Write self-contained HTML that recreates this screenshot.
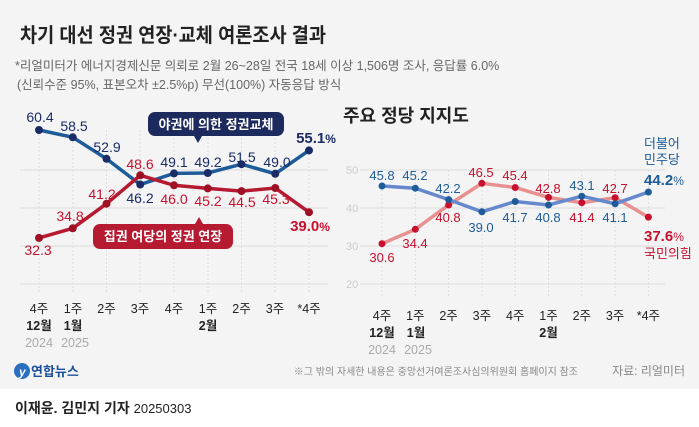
<!DOCTYPE html>
<html><head><meta charset="utf-8"><style>
body{margin:0;width:699px;height:422px;overflow:hidden;background:#fff;font-family:"Liberation Sans","Noto Sans CJK KR",sans-serif}
</style></head><body>
<svg width="699" height="422" xmlns="http://www.w3.org/2000/svg" font-family="Liberation Sans, Noto Sans CJK KR, sans-serif">
<rect x="0" y="0" width="699" height="389" fill="#f4f4f4"/>
<text x="20" y="42" font-size="20" font-weight="bold" fill="#222" textLength="306" lengthAdjust="spacingAndGlyphs">차기 대선 정권 연장·교체 여론조사 결과</text>
<text x="15" y="70" font-size="12.5" fill="#666">*리얼미터가 에너지경제신문 의뢰로 2월 26~28일 전국 18세 이상 1,506명 조사, 응답률 6.0%</text>
<text x="17" y="89" font-size="12.5" fill="#666">(신뢰수준 95%, 표본오차 ±2.5%p) 무선(100%) 자동응답 방식</text>
<g stroke="#ddd" stroke-width="1">
<line x1="20" y1="170" x2="328" y2="170"/><line x1="20" y1="208" x2="328" y2="208"/><line x1="20" y1="246" x2="328" y2="246"/><line x1="20" y1="284" x2="328" y2="284"/>
</g>
<g stroke="#ddd" stroke-dasharray="2,2"><line x1="39" y1="130" x2="39" y2="292"/><line x1="73" y1="130" x2="73" y2="292"/><line x1="106.5" y1="130" x2="106.5" y2="292"/><line x1="140" y1="130" x2="140" y2="292"/><line x1="174" y1="130" x2="174" y2="292"/><line x1="208" y1="130" x2="208" y2="292"/><line x1="241.5" y1="130" x2="241.5" y2="292"/><line x1="275" y1="130" x2="275" y2="292"/><line x1="309" y1="130" x2="309" y2="292"/></g>
<polyline fill="none" stroke="#1d5c99" stroke-width="3.5" points="39,130 72.75,137.3 106.5,158.8 140.25,184.5 174,173.4 207.75,173 241.5,164.2 275.25,173.8 309,150.4"/>
<polyline fill="none" stroke="#b51a30" stroke-width="3.5" points="39,237.9 72.75,228.3 106.5,203.7 140.25,175.3 174,185.3 207.75,188.4 241.5,191.1 275.25,188 309,212.2"/>
<g fill="#1a2b66"><circle cx="39" cy="130" r="4"/><circle cx="72.75" cy="137.3" r="4"/><circle cx="106.5" cy="158.8" r="4"/><circle cx="140.25" cy="184.5" r="4"/><circle cx="174" cy="173.4" r="4"/><circle cx="207.75" cy="173" r="4"/><circle cx="241.5" cy="164.2" r="4"/><circle cx="275.25" cy="173.8" r="4"/><circle cx="309" cy="150.4" r="4"/></g>
<g fill="#9e1024"><circle cx="39" cy="237.9" r="4"/><circle cx="72.75" cy="228.3" r="4"/><circle cx="106.5" cy="203.7" r="4"/><circle cx="140.25" cy="175.3" r="4"/><circle cx="174" cy="185.3" r="4"/><circle cx="207.75" cy="188.4" r="4"/><circle cx="241.5" cy="191.1" r="4"/><circle cx="275.25" cy="188" r="4"/><circle cx="309" cy="212.2" r="4"/></g>
<g font-size="14" fill="#1a2b66" text-anchor="middle">
<text x="40" y="122">60.4</text><text x="74" y="131">58.5</text><text x="107" y="152">52.9</text><text x="140" y="203">46.2</text><text x="174" y="167">49.1</text><text x="208" y="167">49.2</text><text x="242" y="162">51.5</text><text x="277" y="167">49.0</text><text x="316" y="143" font-weight="bold" font-size="15">55.1<tspan font-size="12">%</tspan></text>
</g>
<g font-size="14" fill="#c8102e" text-anchor="middle">
<text x="38" y="255">32.3</text><text x="70" y="221">34.8</text><text x="102" y="199">41.2</text><text x="140" y="169">48.6</text><text x="174" y="204">46.0</text><text x="208" y="206">45.2</text><text x="242" y="207">44.5</text><text x="276" y="204">45.3</text><text x="310" y="231" font-weight="bold" font-size="15">39.0<tspan font-size="12">%</tspan></text>
</g>
<rect x="148" y="112" width="136" height="24" rx="7" fill="#1d2a5e"/><polygon points="194,136 202,136 198,143" fill="#1d2a5e"/>
<text x="216" y="129" font-size="13" font-weight="bold" fill="#fff" text-anchor="middle">야권에 의한 정권교체</text>
<rect x="93" y="224" width="140" height="25" rx="7" fill="#b51a30"/><polygon points="195,224 203,224 199,217" fill="#b51a30"/>
<text x="163" y="241" font-size="13" font-weight="bold" fill="#fff" text-anchor="middle">집권 여당의 정권 연장</text>
<g font-size="12.5" fill="#222" text-anchor="middle">
<text x="39" y="313">4주</text><text x="73" y="313">1주</text><text x="106.5" y="313">2주</text><text x="140" y="313">3주</text><text x="174" y="313">4주</text><text x="208" y="313">1주</text><text x="241.5" y="313">2주</text><text x="275" y="313">3주</text><text x="309" y="313">*4주</text>
<g font-weight="bold"><text x="39" y="330">12월</text><text x="73" y="330">1월</text><text x="208" y="330">2월</text></g>
<g fill="#aaa"><text x="39" y="347">2024</text><text x="75" y="347">2025</text></g>
</g>
<text x="343" y="122" font-size="18" font-weight="bold" fill="#222">주요 정당 지지도</text>
<g stroke="#ddd"><line x1="360" y1="170" x2="665" y2="170"/><line x1="360" y1="208" x2="665" y2="208"/><line x1="360" y1="246" x2="665" y2="246"/><line x1="360" y1="284" x2="665" y2="284"/></g>
<g font-size="11" fill="#ccc"><text x="346" y="174">50</text><text x="346" y="212">40</text><text x="346" y="250">30</text><text x="346" y="288">20</text></g>
<g stroke="#ddd" stroke-dasharray="2,2"><line x1="382" y1="170" x2="382" y2="296"/><line x1="415.3" y1="170" x2="415.3" y2="296"/><line x1="448.6" y1="170" x2="448.6" y2="296"/><line x1="481.9" y1="170" x2="481.9" y2="296"/><line x1="515.2" y1="170" x2="515.2" y2="296"/><line x1="548.5" y1="170" x2="548.5" y2="296"/><line x1="581.8" y1="170" x2="581.8" y2="296"/><line x1="615.1" y1="170" x2="615.1" y2="296"/><line x1="648.4" y1="170" x2="648.4" y2="296"/></g>
<polyline fill="none" stroke="#e89090" stroke-width="3.5" points="382,243.7 415.3,229.3 448.6,205 481.9,183.3 515.2,187.5 548.5,197.4 581.8,202.7 615.1,197.7 648.4,217.1"/>
<polyline fill="none" stroke="#6688cc" stroke-width="3.5" points="382,186 415.3,188.2 448.6,199.6 481.9,211.8 515.2,201.5 548.5,205 581.8,196.2 615.1,203.8 648.4,192"/>
<g fill="#c8102e"><circle cx="382" cy="243.7" r="3.5"/><circle cx="415.3" cy="229.3" r="3.5"/><circle cx="448.6" cy="205" r="3.5"/><circle cx="481.9" cy="183.3" r="3.5"/><circle cx="515.2" cy="187.5" r="3.5"/><circle cx="548.5" cy="197.4" r="3.5"/><circle cx="581.8" cy="202.7" r="3.5"/><circle cx="615.1" cy="197.7" r="3.5"/><circle cx="648.4" cy="217.1" r="3.5"/></g>
<g fill="#1d5c99"><circle cx="382" cy="186" r="3.5"/><circle cx="415.3" cy="188.2" r="3.5"/><circle cx="448.6" cy="199.6" r="3.5"/><circle cx="481.9" cy="211.8" r="3.5"/><circle cx="515.2" cy="201.5" r="3.5"/><circle cx="548.5" cy="205" r="3.5"/><circle cx="581.8" cy="196.2" r="3.5"/><circle cx="615.1" cy="203.8" r="3.5"/><circle cx="648.4" cy="192" r="3.5"/></g>
<g font-size="13" fill="#1d5c99" text-anchor="middle">
<text x="382" y="180">45.8</text><text x="415" y="180">45.2</text><text x="448" y="193">42.2</text><text x="481" y="232">39.0</text><text x="515" y="222">41.7</text><text x="548" y="222">40.8</text><text x="582" y="190">43.1</text><text x="615" y="222">41.1</text>
</g>
<g font-size="13" fill="#c8102e" text-anchor="middle">
<text x="481" y="177">46.5</text><text x="515" y="180">45.4</text><text x="548" y="193">42.8</text><text x="448" y="222">40.8</text><text x="582" y="222">41.4</text><text x="615" y="193">42.7</text><text x="382" y="262">30.6</text><text x="415" y="248">34.4</text>
</g>
<g font-size="13" fill="#1d5c99"><text x="644" y="148">더불어</text><text x="644" y="164">민주당</text><text x="644" y="185" font-weight="bold" font-size="15">44.2<tspan font-size="12" font-weight="normal">%</tspan></text></g>
<g font-size="13" fill="#c8102e"><text x="644" y="241" font-weight="bold" font-size="15">37.6<tspan font-size="12" font-weight="normal">%</tspan></text><text x="644" y="258">국민의힘</text></g>
<g font-size="12.5" fill="#222" text-anchor="middle">
<text x="382" y="320">4주</text><text x="415.3" y="320">1주</text><text x="448.6" y="320">2주</text><text x="481.9" y="320">3주</text><text x="515.2" y="320">4주</text><text x="548.5" y="320">1주</text><text x="581.8" y="320">2주</text><text x="615.1" y="320">3주</text><text x="648.4" y="320">*4주</text>
<g font-weight="bold"><text x="382" y="337">12월</text><text x="416" y="337">1월</text><text x="548.5" y="337">2월</text></g>
<g fill="#aaa"><text x="382" y="354">2024</text><text x="418" y="354">2025</text></g>
</g>
<circle cx="22" cy="371" r="8" fill="#2a6fc0"/><text x="19" y="376" font-size="12" font-style="italic" font-weight="bold" fill="#fff">y</text>
<text x="31" y="376" font-size="13" font-weight="bold" fill="#1a4f9a">연합뉴스</text>
<text x="578" y="375" font-size="10" fill="#888" text-anchor="end">※그 밖의 자세한 내용은 중앙선거여론조사심의위원회 홈페이지 참조</text>
<text x="685" y="375" font-size="12" fill="#888" text-anchor="end">자료: 리얼미터</text>
<text x="15" y="413" font-size="14" font-weight="bold" fill="#222">이재윤. 김민지 기자 <tspan font-weight="normal" font-size="13">20250303</tspan></text>
</svg>
</body></html>
